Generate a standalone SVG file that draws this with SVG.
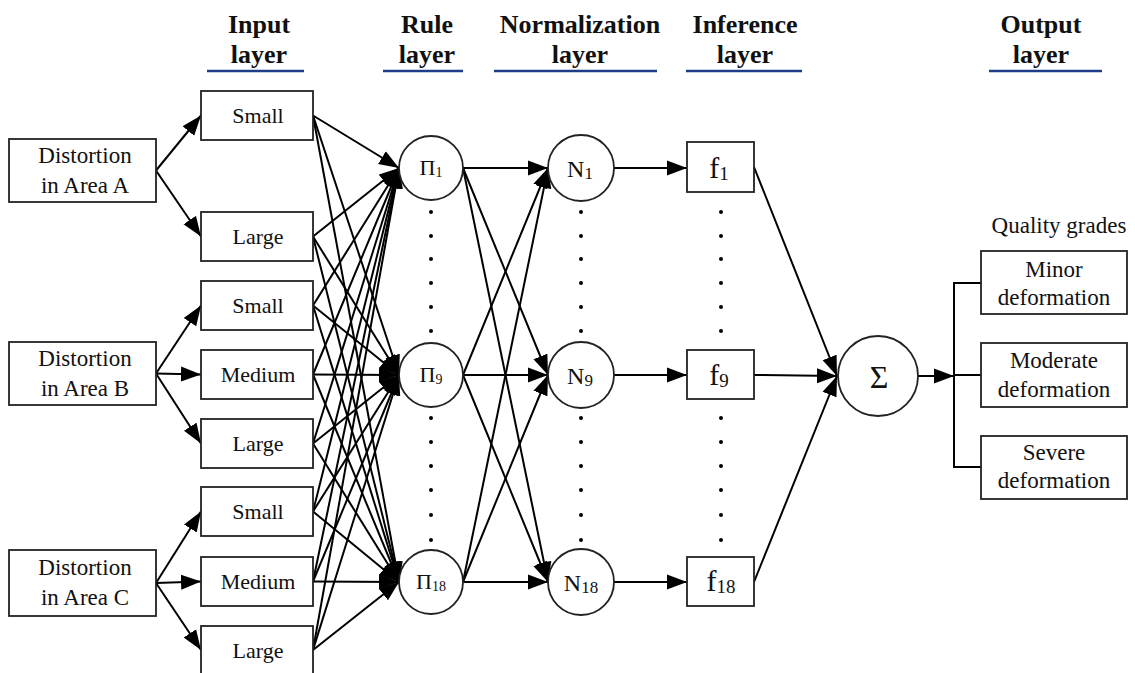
<svg xmlns="http://www.w3.org/2000/svg" width="1135" height="673" viewBox="0 0 1135 673">
<style>
.box{fill:#fff;stroke:#222;stroke-width:1.8}
.t{font-family:'Liberation Serif','Times New Roman','DejaVu Serif',serif;fill:#111;text-anchor:middle}
.h{font-family:'Liberation Serif','Times New Roman','DejaVu Serif',serif;font-weight:bold;font-size:26px;fill:#111;text-anchor:middle}
.ul{stroke:#1f3c88;stroke-width:2.5}
.c line,.c polyline{stroke:#000;stroke-width:2;fill:none}
.a{marker-end:url(#ah)}
.dot{fill:#000}
</style>
<defs>
<marker id="ah" markerUnits="userSpaceOnUse" markerWidth="22" markerHeight="16" refX="20" refY="8" orient="auto">
<path d="M0,0.5 L20,8 L0,15.5 z" fill="#000"/>
</marker>
</defs>
<rect width="1135" height="673" fill="#fff"/>
<g id="headers">
<text class="h" x="259" y="33">Input</text><text class="h" x="259" y="63">layer</text>
<line class="ul" x1="207" y1="71" x2="304" y2="71"/>
<text class="h" x="427" y="33">Rule</text><text class="h" x="427" y="63">layer</text>
<line class="ul" x1="383" y1="71" x2="463" y2="71"/>
<text class="h" x="580" y="33">Normalization</text><text class="h" x="580" y="63">layer</text>
<line class="ul" x1="494" y1="71" x2="657" y2="71"/>
<text class="h" x="745" y="33">Inference</text><text class="h" x="745" y="63">layer</text>
<line class="ul" x1="686" y1="71" x2="802" y2="71"/>
<text class="h" x="1041" y="33">Output</text><text class="h" x="1041" y="63">layer</text>
<line class="ul" x1="989" y1="71" x2="1102" y2="71"/>
</g>
<g id="connectors" class="c">
<line class="a" x1="156" y1="170.5" x2="201" y2="115.5"/>
<line class="a" x1="156" y1="170.5" x2="201" y2="236.5"/>
<line class="a" x1="156" y1="373.5" x2="201" y2="305.5"/>
<line class="a" x1="156" y1="373.5" x2="201" y2="374.5"/>
<line class="a" x1="156" y1="373.5" x2="201" y2="443.5"/>
<line class="a" x1="156" y1="583" x2="201" y2="511.5"/>
<line class="a" x1="156" y1="583" x2="201" y2="581.5"/>
<line class="a" x1="156" y1="583" x2="201" y2="650"/>
<line class="a" x1="313" y1="115.5" x2="399" y2="168"/><line class="a" x1="313" y1="115.5" x2="399" y2="375"/><line class="a" x1="313" y1="115.5" x2="399" y2="582"/>
<line class="a" x1="313" y1="236.5" x2="399" y2="168"/><line class="a" x1="313" y1="236.5" x2="399" y2="375"/><line class="a" x1="313" y1="236.5" x2="399" y2="582"/>
<line class="a" x1="313" y1="305.5" x2="399" y2="168"/><line class="a" x1="313" y1="305.5" x2="399" y2="375"/><line class="a" x1="313" y1="305.5" x2="399" y2="582"/>
<line class="a" x1="313" y1="374.5" x2="399" y2="168"/><line class="a" x1="313" y1="374.5" x2="399" y2="375"/><line class="a" x1="313" y1="374.5" x2="399" y2="582"/>
<line class="a" x1="313" y1="443.5" x2="399" y2="168"/><line class="a" x1="313" y1="443.5" x2="399" y2="375"/><line class="a" x1="313" y1="443.5" x2="399" y2="582"/>
<line class="a" x1="313" y1="511.5" x2="399" y2="168"/><line class="a" x1="313" y1="511.5" x2="399" y2="375"/><line class="a" x1="313" y1="511.5" x2="399" y2="582"/>
<line class="a" x1="313" y1="581.5" x2="399" y2="168"/><line class="a" x1="313" y1="581.5" x2="399" y2="375"/><line class="a" x1="313" y1="581.5" x2="399" y2="582"/>
<line class="a" x1="313" y1="650" x2="399" y2="168"/><line class="a" x1="313" y1="650" x2="399" y2="375"/><line class="a" x1="313" y1="650" x2="399" y2="582"/>
<line class="a" x1="463" y1="168" x2="548" y2="168"/><line class="a" x1="463" y1="168" x2="548" y2="375"/><line class="a" x1="463" y1="168" x2="548" y2="582"/>
<line class="a" x1="463" y1="375" x2="548" y2="168"/><line class="a" x1="463" y1="375" x2="548" y2="375"/><line class="a" x1="463" y1="375" x2="548" y2="582"/>
<line class="a" x1="463" y1="582" x2="548" y2="168"/><line class="a" x1="463" y1="582" x2="548" y2="375"/><line class="a" x1="463" y1="582" x2="548" y2="582"/>
<line class="a" x1="614" y1="168" x2="687" y2="168"/>
<line class="a" x1="614" y1="375" x2="687" y2="375"/>
<line class="a" x1="614" y1="582" x2="687" y2="582"/>
<line class="a" x1="754" y1="167" x2="837" y2="376"/>
<line class="a" x1="754" y1="375" x2="837" y2="376"/>
<line class="a" x1="754" y1="582" x2="837" y2="376"/>
<line class="a" x1="918" y1="376" x2="954" y2="376"/>
<polyline points="981,283 954,283 954,467 981,467"/>
<line x1="954" y1="375" x2="981" y2="375"/>
</g>
<g id="distA"><rect class="box" x="9" y="139" width="147" height="63"/><text class="t" font-size="23" x="85" y="163">Distortion</text><text class="t" font-size="23" x="85" y="193">in Area A</text></g>
<g id="distB"><rect class="box" x="9" y="342" width="147" height="63"/><text class="t" font-size="23" x="85" y="366">Distortion</text><text class="t" font-size="23" x="85" y="396">in Area B</text></g>
<g id="distC"><rect class="box" x="9" y="550" width="147" height="66"/><text class="t" font-size="23" x="85" y="575">Distortion</text><text class="t" font-size="23" x="85" y="605">in Area C</text></g>
<g id="smallA"><rect class="box" x="201" y="91" width="112" height="49"/><text class="t" font-size="22" x="258" y="123">Small</text></g>
<g id="largeA"><rect class="box" x="201" y="212" width="112" height="49"/><text class="t" font-size="22" x="258" y="244">Large</text></g>
<g id="smallB"><rect class="box" x="201" y="281" width="112" height="49"/><text class="t" font-size="22" x="258" y="313">Small</text></g>
<g id="mediumB"><rect class="box" x="201" y="350" width="112" height="49"/><text class="t" font-size="22" x="258" y="382">Medium</text></g>
<g id="largeB"><rect class="box" x="201" y="419" width="112" height="49"/><text class="t" font-size="22" x="258" y="451">Large</text></g>
<g id="smallC"><rect class="box" x="201" y="487" width="112" height="49"/><text class="t" font-size="22" x="258" y="519">Small</text></g>
<g id="mediumC"><rect class="box" x="201" y="557" width="112" height="49"/><text class="t" font-size="22" x="258" y="589">Medium</text></g>
<g id="largeC"><rect class="box" x="201" y="626" width="112" height="50"/><text class="t" font-size="22" x="258" y="658">Large</text></g>
<g id="rule1"><circle class="box" cx="431" cy="168" r="32"/><text class="t" font-size="22" x="431" y="175">Π<tspan font-size="14" dy="2">1</tspan></text></g>
<g id="rule9"><circle class="box" cx="431" cy="375" r="32"/><text class="t" font-size="22" x="431" y="382">Π<tspan font-size="14" dy="2">9</tspan></text></g>
<g id="rule18"><circle class="box" cx="431" cy="582" r="32"/><text class="t" font-size="22" x="431" y="589">Π<tspan font-size="14" dy="2">18</tspan></text></g>
<g id="norm1"><circle class="box" cx="581" cy="168" r="33"/><text class="t" font-size="24" x="580" y="177">N<tspan font-size="17" dy="2">1</tspan></text></g>
<g id="norm9"><circle class="box" cx="581" cy="375" r="33"/><text class="t" font-size="24" x="580" y="384">N<tspan font-size="17" dy="2">9</tspan></text></g>
<g id="norm18"><circle class="box" cx="581" cy="582" r="33"/><text class="t" font-size="24" x="581" y="591">N<tspan font-size="17" dy="2">18</tspan></text></g>
<g id="inf1"><rect class="box" x="687" y="142" width="67" height="50"/><text class="t" font-size="30" x="719" y="178">f<tspan font-size="19" dy="2">1</tspan></text></g>
<g id="inf9"><rect class="box" x="687" y="350" width="67" height="49"/><text class="t" font-size="30" x="719" y="385">f<tspan font-size="19" dy="2">9</tspan></text></g>
<g id="inf18"><rect class="box" x="687" y="557" width="67" height="49"/><text class="t" font-size="30" x="721" y="591">f<tspan font-size="19" dy="2">18</tspan></text></g>
<g id="dots">
<circle class="dot" cx="431" cy="212" r="2"/><circle class="dot" cx="431" cy="236" r="2"/><circle class="dot" cx="431" cy="259" r="2"/><circle class="dot" cx="431" cy="283" r="2"/><circle class="dot" cx="431" cy="307" r="2"/><circle class="dot" cx="431" cy="331" r="2"/>
<circle class="dot" cx="431" cy="418" r="2"/><circle class="dot" cx="431" cy="442" r="2"/><circle class="dot" cx="431" cy="466" r="2"/><circle class="dot" cx="431" cy="490" r="2"/><circle class="dot" cx="431" cy="515" r="2"/><circle class="dot" cx="431" cy="540" r="2"/>
<circle class="dot" cx="581" cy="212" r="2"/><circle class="dot" cx="581" cy="236" r="2"/><circle class="dot" cx="581" cy="259" r="2"/><circle class="dot" cx="581" cy="283" r="2"/><circle class="dot" cx="581" cy="307" r="2"/><circle class="dot" cx="581" cy="331" r="2"/>
<circle class="dot" cx="581" cy="418" r="2"/><circle class="dot" cx="581" cy="442" r="2"/><circle class="dot" cx="581" cy="466" r="2"/><circle class="dot" cx="581" cy="490" r="2"/><circle class="dot" cx="581" cy="515" r="2"/><circle class="dot" cx="581" cy="540" r="2"/>
<circle class="dot" cx="721" cy="212" r="2"/><circle class="dot" cx="721" cy="236" r="2"/><circle class="dot" cx="721" cy="259" r="2"/><circle class="dot" cx="721" cy="283" r="2"/><circle class="dot" cx="721" cy="307" r="2"/><circle class="dot" cx="721" cy="331" r="2"/>
<circle class="dot" cx="721" cy="418" r="2"/><circle class="dot" cx="721" cy="442" r="2"/><circle class="dot" cx="721" cy="466" r="2"/><circle class="dot" cx="721" cy="490" r="2"/><circle class="dot" cx="721" cy="515" r="2"/><circle class="dot" cx="721" cy="540" r="2"/>
</g>
<g id="sum"><circle class="box" cx="878" cy="376" r="40"/><text class="t" font-size="32" x="879" y="388">Σ</text></g>
<g id="grades"><text class="t" font-size="23" x="1059" y="233">Quality grades</text></g>
<g id="minor"><rect class="box" x="981" y="251" width="146" height="63"/><text class="t" font-size="23" x="1054" y="277">Minor</text><text class="t" font-size="23" x="1054" y="305">deformation</text></g>
<g id="moderate"><rect class="box" x="981" y="343" width="146" height="64"/><text class="t" font-size="23" x="1054" y="368">Moderate</text><text class="t" font-size="23" x="1054" y="397">deformation</text></g>
<g id="severe"><rect class="box" x="981" y="436" width="146" height="63"/><text class="t" font-size="23" x="1054" y="460">Severe</text><text class="t" font-size="23" x="1054" y="488">deformation</text></g>
</svg>
